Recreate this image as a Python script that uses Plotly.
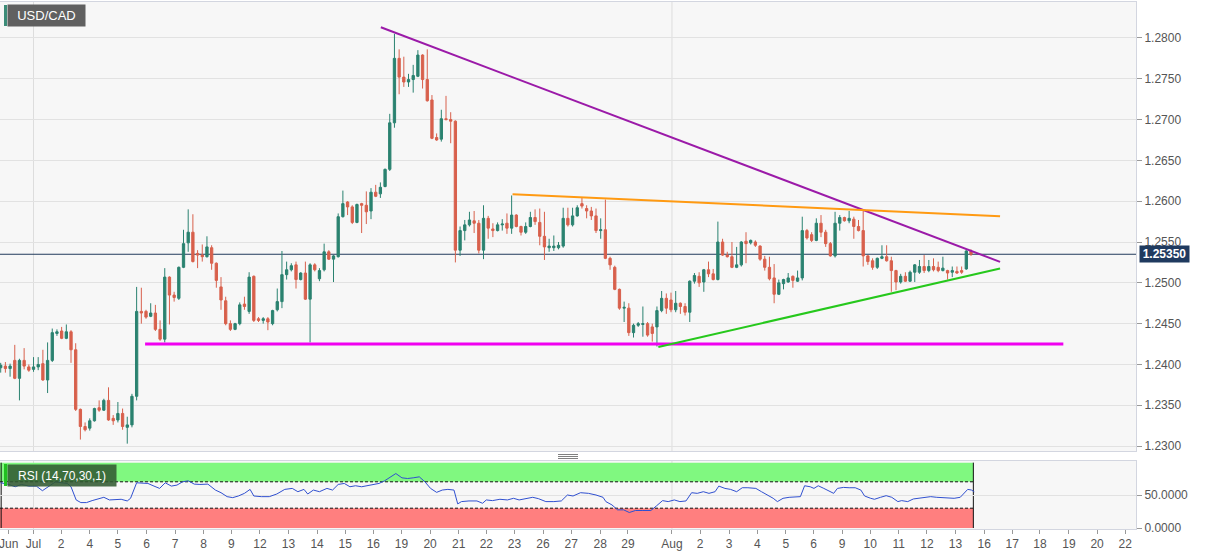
import plotly.graph_objects as go

# ---------------- DATA (4H candles, USD/CAD) ----------------
open_ = [1.2396,1.2398,1.2395,1.2405,1.2383,1.2405,1.2397,1.2394,1.2397,1.2401,
         1.2381,1.2405,1.2438,1.2441,1.2432,1.2440,1.2418,1.2345,1.2324,1.2322,
         1.2331,1.2347,1.2344,1.2356,1.2334,1.2332,1.2340,1.2323,1.2326,1.2361,
         1.2465,1.2465,1.2459,1.2463,1.2443,1.2431,1.2507,1.2485,1.2481,1.2519,
         1.2549,1.2562,1.2536,1.2534,1.2532,1.2543,1.2524,1.2495,1.2478,1.2450,
         1.2443,1.2450,1.2474,1.2465,1.2508,1.2456,1.2454,1.2456,1.2450,1.2467,
         1.2477,1.2510,1.2516,1.2522,1.2504,1.2512,1.2480,1.2522,1.2505,1.2516,
         1.2538,1.2529,1.2532,1.2581,1.2599,1.2593,1.2574,1.2597,1.2595,1.2588,
         1.2611,1.2609,1.2618,1.2639,1.2696,1.2775,1.2752,1.2746,1.2749,1.2753,
         1.2779,1.2749,1.2724,1.2678,1.2676,1.2701,1.2700,1.2698,1.2540,1.2564,
         1.2571,1.2576,1.2573,1.2540,1.2579,1.2566,1.2564,1.2571,1.2573,1.2567,
         1.2583,1.2569,1.2562,1.2569,1.2580,1.2574,1.2557,1.2543,1.2543,1.2543,
         1.2545,1.2579,1.2571,1.2582,1.2597,1.2591,1.2588,1.2582,1.2564,1.2565,
         1.2530,1.2519,1.2492,1.2469,1.2469,1.2439,1.2448,1.2449,1.2450,1.2446,
         1.2446,1.2466,1.2481,1.2479,1.2467,1.2475,1.2471,1.2464,1.2502,1.2508,
         1.2501,1.2516,1.2511,1.2504,1.2550,1.2534,1.2532,1.2519,1.2522,1.2551,
         1.2549,1.2550,1.2545,1.2529,1.2519,1.2506,1.2486,1.2499,1.2501,1.2508,
         1.2502,1.2506,1.2564,1.2559,1.2552,1.2573,1.2562,1.2548,1.2533,1.2573,
         1.2580,1.2576,1.2578,1.2569,1.2564,1.2533,1.2527,1.2519,1.2530,1.2532,
         1.2527,1.2515,1.2501,1.2508,1.2502,1.2513,1.2513,1.2520,1.2515,1.2520,
         1.2519,1.2515,1.2515,1.2513,1.2514,1.2515,1.2517,1.2539]
high = [1.2402,1.2403,1.2401,1.2424,1.2407,1.2420,1.2400,1.2409,1.2409,1.2418,
        1.2427,1.2444,1.2443,1.2446,1.2449,1.2442,1.2426,1.2346,1.2329,1.2334,
        1.2347,1.2356,1.2358,1.2372,1.2338,1.2354,1.2346,1.2336,1.2364,1.2495,
        1.2494,1.2467,1.2475,1.2473,1.2454,1.2518,1.2508,1.2489,1.2520,1.2565,
        1.2590,1.2584,1.2540,1.2547,1.2557,1.2546,1.2525,1.2507,1.2483,1.2454,
        1.2451,1.2476,1.2483,1.2513,1.2509,1.2458,1.2458,1.2458,1.2467,1.2493,
        1.2539,1.2526,1.2524,1.2526,1.2513,1.2526,1.2524,1.2524,1.2518,1.2548,
        1.2540,1.2534,1.2585,1.2613,1.2600,1.2595,1.2597,1.2598,1.2612,1.2616,
        1.2620,1.2623,1.2640,1.2707,1.2805,1.2786,1.2777,1.2756,1.2767,1.2785,
        1.2780,1.2786,1.2730,1.2683,1.2712,1.2729,1.2709,1.2699,1.2569,1.2577,
        1.2587,1.2588,1.2577,1.2595,1.2582,1.2573,1.2574,1.2578,1.2585,1.2607,
        1.2584,1.2570,1.2574,1.2587,1.2590,1.2591,1.2587,1.2554,1.2558,1.2550,
        1.2592,1.2592,1.2592,1.2595,1.2604,1.2595,1.2593,1.2591,1.2579,1.2602,
        1.2532,1.2521,1.2493,1.2477,1.2475,1.2450,1.2452,1.2471,1.2452,1.2450,
        1.2471,1.2490,1.2487,1.2488,1.2490,1.2476,1.2475,1.2503,1.2512,1.2513,
        1.2517,1.2526,1.2517,1.2575,1.2554,1.2538,1.2550,1.2544,1.2551,1.2562,
        1.2553,1.2552,1.2546,1.2533,1.2532,1.2523,1.2504,1.2505,1.2512,1.2509,
        1.2515,1.2581,1.2566,1.2562,1.2579,1.2583,1.2565,1.2550,1.2587,1.2583,
        1.2581,1.2588,1.2581,1.2577,1.2588,1.2534,1.2530,1.2531,1.2546,1.2546,
        1.2532,1.2516,1.2511,1.2513,1.2515,1.2523,1.2528,1.2534,1.2528,1.2530,
        1.2526,1.2532,1.2516,1.2520,1.2520,1.2520,1.2540,1.2541]
low = [1.2390,1.2390,1.2385,1.2382,1.2356,1.2394,1.2391,1.2391,1.2393,1.2380,
       1.2365,1.2403,1.2435,1.2431,1.2431,1.2402,1.2343,1.2308,1.2318,1.2319,
       1.2330,1.2342,1.2343,1.2331,1.2326,1.2329,1.2320,1.2303,1.2323,1.2356,
       1.2450,1.2456,1.2458,1.2441,1.2429,1.2427,1.2449,1.2477,1.2479,1.2518,
       1.2538,1.2525,1.2518,1.2526,1.2531,1.2516,1.2494,1.2467,1.2448,1.2441,
       1.2442,1.2448,1.2467,1.2462,1.2452,1.2452,1.2450,1.2442,1.2448,1.2465,
       1.2469,1.2504,1.2514,1.2493,1.2503,1.2479,1.2427,1.2514,1.2502,1.2514,
       1.2528,1.2501,1.2531,1.2580,1.2583,1.2572,1.2573,1.2561,1.2572,1.2578,
       1.2605,1.2604,1.2617,1.2637,1.2690,1.2731,1.2740,1.2740,1.2733,1.2752,
       1.2738,1.2722,1.2676,1.2674,1.2673,1.2699,1.2671,1.2525,1.2533,1.2552,
       1.2569,1.2561,1.2536,1.2529,1.2554,1.2556,1.2563,1.2564,1.2560,1.2560,
       1.2568,1.2558,1.2560,1.2568,1.2571,1.2546,1.2528,1.2538,1.2539,1.2541,
       1.2543,1.2569,1.2569,1.2581,1.2591,1.2579,1.2577,1.2561,1.2554,1.2529,
       1.2516,1.2491,1.2467,1.2452,1.2435,1.2433,1.2446,1.2434,1.2434,1.2428,
       1.2422,1.2464,1.2462,1.2464,1.2464,1.2462,1.2460,1.2452,1.2499,1.2495,
       1.2489,1.2507,1.2503,1.2503,1.2533,1.2531,1.2518,1.2518,1.2520,1.2524,
       1.2547,1.2544,1.2527,1.2515,1.2503,1.2475,1.2485,1.2492,1.2500,1.2494,
       1.2501,1.2503,1.2553,1.2550,1.2551,1.2556,1.2544,1.2532,1.2531,1.2564,
       1.2575,1.2573,1.2554,1.2563,1.2520,1.2522,1.2516,1.2517,1.2529,1.2526,
       1.2489,1.2491,1.2499,1.2501,1.2501,1.2501,1.2511,1.2512,1.2513,1.2514,
       1.2513,1.2514,1.2504,1.2507,1.2511,1.2511,1.2516,1.2533]
close = [1.2399,1.2395,1.2398,1.2383,1.2405,1.2398,1.2393,1.2397,1.2400,1.2381,
         1.2405,1.2439,1.2440,1.2432,1.2440,1.2418,1.2345,1.2324,1.2320,1.2331,
         1.2346,1.2344,1.2356,1.2332,1.2331,1.2340,1.2324,1.2326,1.2361,1.2465,
         1.2463,1.2458,1.2463,1.2443,1.2431,1.2507,1.2485,1.2482,1.2519,1.2548,
         1.2562,1.2526,1.2534,1.2532,1.2544,1.2524,1.2503,1.2479,1.2450,1.2443,
         1.2450,1.2473,1.2471,1.2507,1.2454,1.2454,1.2456,1.2452,1.2466,1.2477,
         1.2510,1.2516,1.2521,1.2504,1.2512,1.2480,1.2522,1.2516,1.2515,1.2538,
         1.2529,1.2533,1.2581,1.2597,1.2593,1.2574,1.2596,1.2595,1.2587,1.2611,
         1.2606,1.2617,1.2639,1.2696,1.2775,1.2752,1.2746,1.2749,1.2754,1.2779,
         1.2749,1.2723,1.2677,1.2675,1.2701,1.2700,1.2698,1.2540,1.2564,1.2571,
         1.2577,1.2573,1.2540,1.2579,1.2567,1.2564,1.2571,1.2572,1.2567,1.2583,
         1.2569,1.2562,1.2569,1.2580,1.2575,1.2557,1.2544,1.2545,1.2545,1.2546,
         1.2579,1.2571,1.2582,1.2592,1.2594,1.2588,1.2582,1.2564,1.2565,1.2530,
         1.2522,1.2492,1.2469,1.2470,1.2439,1.2448,1.2450,1.2450,1.2436,1.2438,
         1.2466,1.2481,1.2469,1.2467,1.2475,1.2471,1.2464,1.2502,1.2509,1.2500,
         1.2516,1.2511,1.2504,1.2550,1.2534,1.2532,1.2519,1.2522,1.2550,1.2548,
         1.2552,1.2546,1.2529,1.2519,1.2505,1.2486,1.2500,1.2504,1.2506,1.2503,
         1.2506,1.2564,1.2555,1.2552,1.2573,1.2562,1.2548,1.2533,1.2573,1.2580,
         1.2576,1.2579,1.2569,1.2564,1.2533,1.2526,1.2519,1.2530,1.2532,1.2527,
         1.2515,1.2501,1.2508,1.2502,1.2513,1.2522,1.2520,1.2515,1.2520,1.2516,
         1.2515,1.2518,1.2512,1.2515,1.2512,1.2513,1.2539,1.2535]
candle_idx = list(range(len(close)))

# RSI(14): candle index / value
rsi_idx = [0,1.5,3.1,4.4,6.0,7.6,8.9,10.1,11.7,13.0,14.2,15.0,16.1,17.1,18.3,19.5,20.8,22.0,23.2,24.5,
           25.7,27.0,27.7,29.0,30.2,31.4,32.7,33.9,35.1,36.4,37.6,38.8,40.0,41.3,42.5,44.2,45.8,47.0,48.3,49.5,
           50.7,52.0,53.2,54.0,55.6,57.3,58.9,60.6,62.2,63.4,64.7,65.5,66.7,68.0,69.6,70.8,72.0,73.3,74.5,75.7,
           77.0,78.2,79.4,80.7,81.9,83.1,84.3,85.6,86.8,88.0,89.3,90.5,91.7,93.0,94.2,95.4,96.7,97.5,98.3,99.9,
           101.6,102.8,103.6,104.9,106.5,108.1,109.4,110.6,112.2,113.5,114.7,116.3,118.0,119.6,120.9,122.1,123.7,125.4,127.0,128.5,
           129.1,130.4,131.6,132.9,134.1,135.4,137.0,138.7,139.9,141.2,142.4,143.7,144.9,146.2,147.4,148.6,149.9,151.1,152.4,153.2,
           154.5,155.7,157.0,158.2,159.4,161.1,162.3,163.6,164.8,165.7,166.9,168.2,169.4,170.6,171.5,172.7,173.5,174.4,175.6,176.9,
           177.7,178.5,179.8,181.0,182.3,183.5,184.3,185.6,186.4,187.7,188.9,190.1,191.4,192.2,193.5,194.7,195.9,197.2,198.4,199.7,
           200.9,202.2,203.4,204.7,205.5,206.3,207.1,207.7]
rsi_val = [68.5,66.5,62.5,66,63.5,63.5,56.5,62.5,70,68.5,67.5,62.5,42.5,38.5,38.5,41.5,44.5,46.5,42.5,42.5,
           43.5,41,45,68.5,67.5,67.5,63.5,60,68.5,63.5,65,70,71.5,66.5,66,66.5,57.5,53.5,47.5,46,
           48.5,52.5,58.5,48.5,47.5,47.5,51.5,58.5,60,55,58.5,51.5,57.5,55,60,57.5,66,67.5,62.5,64,
           62.5,64,65,67.5,71.5,77.5,82.5,76,75,76,77.5,70,60,54,57.5,58.5,57.5,36.5,40,41,
           41,37.5,42.5,41.5,43.5,42.5,45,42.5,45,46.5,44.5,40,40,41,50,48.5,53.5,52.5,50,46.5,
           40,35,27.5,27.5,23.5,26.5,26.5,26.5,33.5,41.5,40,42.5,40,41,53.5,52.5,55,52.5,55,63.5,
           60,58.5,55,61,61,60,55,50,45,40,45,46.5,47.5,47.5,64,62.5,60,64,60,55,
           52.5,60,61.5,61,61,57.5,48.5,45,43.5,46.5,49,46.5,40,41.5,40,44,45,46.5,47.5,46.5,
           46,45,45,46.5,52.5,58.5,57.5,55]

# Drawn trend lines (candle index, price)
res_x, res_y = [81.1, 213.2], [1.2813, 1.25257]          # falling resistance (purple)
top_x, top_y = [109.2, 213.2], [1.26085, 1.25816]        # upper range line (orange)
sup_x, sup_y = [140.3, 213.2], [1.24215, 1.25175]        # rising support (green)
base_x, base_y = [30.8, 226.7], [1.2425, 1.2425]         # horizontal support (magenta)
last_price = 1.2535

price_ticks = [1.2300, 1.2350, 1.2400, 1.2450, 1.2500, 1.2550, 1.2600, 1.2650, 1.2700, 1.2750, 1.2800]
day_tick_idx = [1.7, 7.0, 12.9, 19.0, 25.0, 31.1, 37.2, 43.3, 49.2, 55.3, 61.4, 67.5, 73.5, 79.5, 85.5,
                91.6, 97.7, 103.6, 109.6, 115.7, 121.7, 127.9, 133.8, 143.2, 149.2, 155.4, 161.4, 167.5,
                173.4, 179.5, 185.5, 191.6, 197.6, 203.7, 209.8, 215.8, 221.7, 227.9, 233.9, 239.9]
day_tick_text = ["Jun", "Jul", "2", "4", "5", "6", "7", "8", "9", "12", "13", "14", "15", "16", "19",
                 "20", "21", "22", "23", "26", "27", "28", "29", "Aug", "2", "3", "4", "5",
                 "6", "9", "10", "11", "12", "13", "16", "17", "18", "19", "20", "22"]
month_idx = [7.0, 143.2]
rsi_band_end = 207.5

# ---------------- STYLE ----------------
UP = "#2a8270"
DOWN = "#d8604c"
FONT = "Liberation Sans, Arial, sans-serif"
X_RANGE = [-0.15, 242.2]
H_PLOT = 527.0


def py(p):  # pixel row -> paper fraction
    return (529 - p) / H_PLOT


fig = go.Figure()

fig.add_trace(go.Candlestick(
    x=candle_idx, open=open_, high=high, low=low, close=close,
    increasing=dict(line=dict(color=UP, width=1), fillcolor=UP),
    decreasing=dict(line=dict(color=DOWN, width=1), fillcolor=DOWN),
    whiskerwidth=0, hoverinfo="skip", showlegend=False, xaxis="x", yaxis="y"))

for xs, ys, col, w in [(base_x, base_y, "#f000f0", 3), (res_x, res_y, "#9b1aa8", 2),
                       (top_x, top_y, "#ff9a12", 2), (sup_x, sup_y, "#26c81c", 2)]:
    fig.add_trace(go.Scatter(x=xs, y=ys, mode="lines", line=dict(color=col, width=w),
                             hoverinfo="skip", showlegend=False, xaxis="x", yaxis="y"))

fig.add_trace(go.Scatter(x=rsi_idx, y=rsi_val, mode="lines", line=dict(color="#3050d0", width=1),
                         hoverinfo="skip", showlegend=False, xaxis="x2", yaxis="y2"))

shapes = []
# month separators
for m in month_idx:
    shapes.append(dict(type="line", xref="x", yref="paper", x0=m, x1=m, y0=py(451), y1=1,
                       line=dict(color="#dddddd", width=1), layer="below"))
    shapes.append(dict(type="line", xref="x2", yref="paper", x0=m, x1=m, y0=0, y1=py(461),
                       line=dict(color="#dddddd", width=1), layer="below"))
# last price line
shapes.append(dict(type="line", xref="paper", yref="y", x0=0, x1=1, y0=last_price, y1=last_price,
                   line=dict(color="#223b5c", width=1), layer="below"))
# RSI bands
shapes.append(dict(type="rect", xref="x2", yref="y2", x0=X_RANGE[0], x1=rsi_band_end, y0=70, y1=99,
                   fillcolor="#80f880", line=dict(width=0), layer="below"))
shapes.append(dict(type="rect", xref="x2", yref="y2", x0=X_RANGE[0], x1=rsi_band_end, y0=0, y1=30,
                   fillcolor="#ff7f7f", line=dict(width=0), layer="below"))
for lv in (70, 30):
    shapes.append(dict(type="line", xref="x2", yref="y2", x0=X_RANGE[0], x1=rsi_band_end, y0=lv, y1=lv,
                       line=dict(color="#111111", width=1, dash="3px,2px"), layer="below"))
shapes.append(dict(type="line", xref="x2", yref="y2", x0=rsi_band_end, x1=rsi_band_end, y0=0, y1=99,
                   line=dict(color="#111111", width=1), layer="below"))
shapes.append(dict(type="line", xref="x2", yref="y2", x0=0.1, x1=0.1, y0=0, y1=99,
                   line=dict(color="#111111", width=1), layer="below"))
# panel divider handle
for yy in (454.5, 456.5, 458.5):
    shapes.append(dict(type="line", xref="paper", yref="paper", x0=558 / 1136, x1=578 / 1136,
                       y0=py(yy), y1=py(yy), line=dict(color="#808080", width=1)))
# label accent strips
shapes.append(dict(type="rect", xref="paper", yref="paper", x0=4 / 1136, x1=7 / 1136,
                   y0=py(26), y1=py(5), fillcolor="#3c8c78", line=dict(width=0)))
shapes.append(dict(type="rect", xref="paper", yref="paper", x0=4 / 1136, x1=7 / 1136,
                   y0=py(486), y1=py(464), fillcolor="#20c020", line=dict(width=0)))

annotations = [
    dict(text="USD/CAD", xref="paper", yref="paper", x=7 / 1136, y=py(15.5), xanchor="left",
         yanchor="middle", showarrow=False, bgcolor="#606060", width=77, height=21, borderpad=0,
         font=dict(family=FONT, size=13, color="white")),
    dict(text="RSI (14,70,30,1)", xref="paper", yref="paper", x=7 / 1136, y=py(475), xanchor="left",
         yanchor="middle", showarrow=False, bgcolor="rgba(50,90,50,0.88)", width=108, height=21,
         borderpad=0, font=dict(family=FONT, size=12, color="white")),
    dict(text="<b>1.25350</b>", xref="paper", yref="y", x=1139 / 1136, y=last_price, xanchor="left",
         yanchor="middle", showarrow=False, bgcolor="#1f3a5f", width=49, height=16, borderpad=0,
         font=dict(family=FONT, size=12, color="white")),
]

fig.update_layout(
    width=1207, height=555,
    margin=dict(l=0, r=71, t=2, b=26),
    paper_bgcolor="white", plot_bgcolor="#f7f7f7",
    font=dict(family=FONT, size=12, color="#555555"),
    showlegend=False,
    shapes=shapes, annotations=annotations,
    xaxis=dict(domain=[0, 1], range=X_RANGE, anchor="y", showticklabels=False, showgrid=False,
               zeroline=False, showline=True, mirror=True, linecolor="#d3d6e0", linewidth=1,
               rangeslider=dict(visible=False), fixedrange=True),
    yaxis=dict(domain=[py(451), 1], range=[1.2294, 1.2844], side="right", anchor="x",
               tickvals=price_ticks, tickformat=".4f", ticks="outside", ticklen=5, tickcolor="#999999",
               showgrid=True, gridcolor="#e2e2e2", zeroline=False, showline=True, mirror=True,
               linecolor="#d3d6e0", tickfont=dict(family=FONT, size=12, color="#555555")),
    xaxis2=dict(domain=[0, 1], range=X_RANGE, anchor="y2", tickvals=day_tick_idx, ticktext=day_tick_text,
                ticks="outside", ticklen=4, tickcolor="#999999", showgrid=False, zeroline=False,
                showline=True, mirror=True, linecolor="#d3d6e0", ticklabeloverflow="allow",
                tickfont=dict(family=FONT, size=12, color="#555555")),
    yaxis2=dict(domain=[0, py(461)], range=[-1.5, 101.5], side="right", anchor="x2",
                tickvals=[0, 50], tickformat=".4f", ticks="outside", ticklen=5, tickcolor="#999999",
                showgrid=True, gridcolor="#e2e2e2", zeroline=False, showline=True, mirror=True,
                linecolor="#d3d6e0", tickfont=dict(family=FONT, size=12, color="#555555")),
)

fig.write_html("out.html", config={"displayModeBar": False},
               post_script="document.body.style.margin='0px';")
